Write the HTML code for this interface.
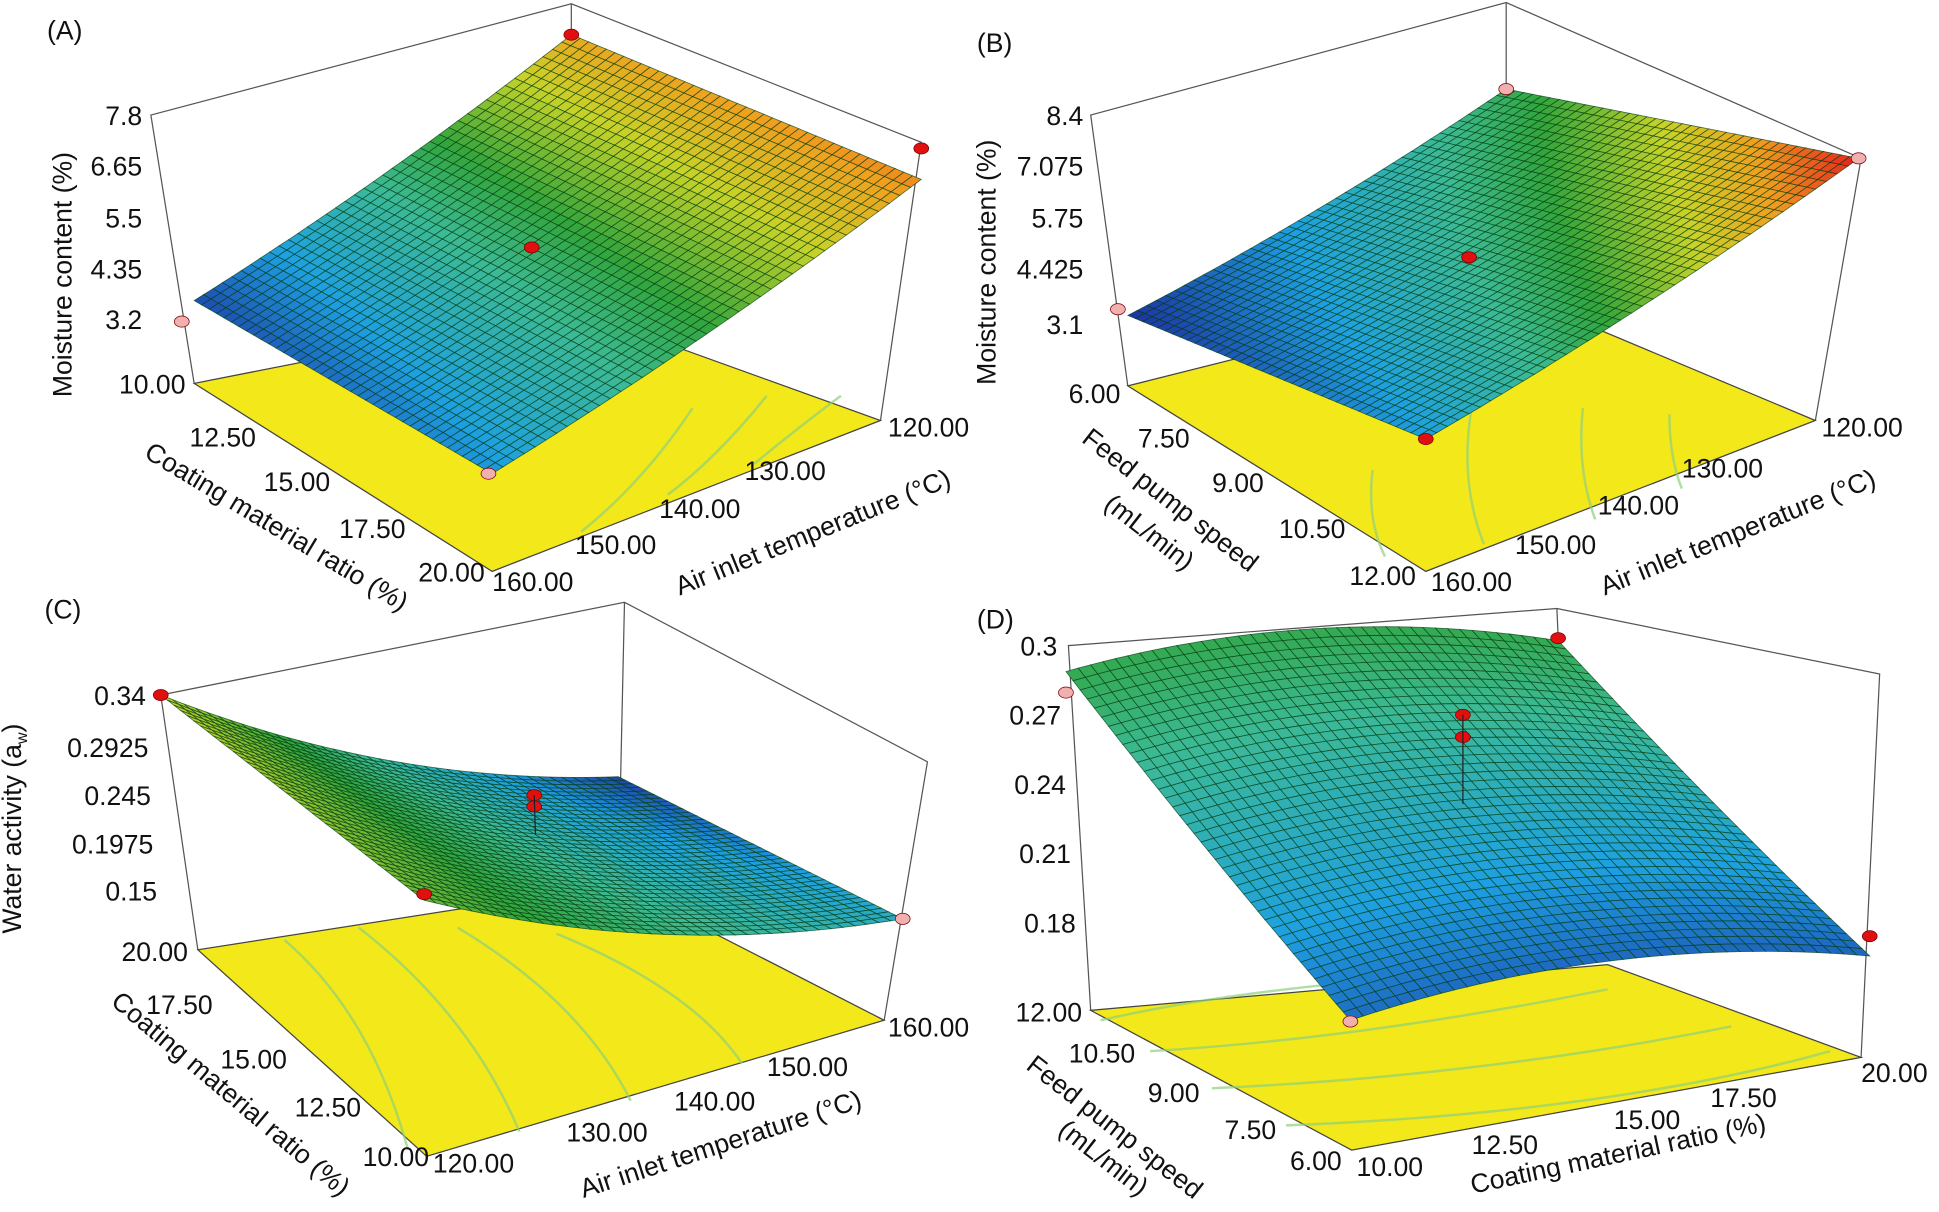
<!DOCTYPE html>
<html><head><meta charset="utf-8"><style>
html,body{margin:0;padding:0;background:#fff;}
svg{display:block;}
text{font-family:"Liberation Sans",sans-serif;font-size:21.5px;fill:#111;}
</style></head><body>
<svg id="s" width="1939" height="1212" viewBox="0 0 1568 980" xmlns="http://www.w3.org/2000/svg">
<rect width="1568" height="980" fill="#fff"/>
<g stroke="#555" stroke-width="1" fill="none">
<polyline points="157,310 122,93 462,3 745,115 712,340"/><line x1="462" y1="3" x2="462" y2="250"/>
<polyline points="912,312 882,93 1218,2 1505,128 1468,340"/><line x1="1218" y1="2" x2="1218" y2="235"/>
<polyline points="160,768 130,562 505,487 750,616 715,825"/><line x1="505" y1="487" x2="500" y2="715"/>
<polyline points="882,817 864,522 1259,492 1520,545 1505,855"/><line x1="1259" y1="492" x2="1262" y2="560"/>
</g>
<g stroke="#444" stroke-width="1">
<polygon points="157,310 398,462 712,340 462,250" fill="#f3e81a"/>
<polygon points="912,312 1153,462 1468,340 1218,235" fill="#f3e81a"/>
<polygon points="160,768 345,935 715,825 500,715" fill="#f3e81a"/>
<polygon points="882,817 1093,930 1505,855 1300,780" fill="#f3e81a"/>
</g>
<g stroke="#8fd07a" stroke-width="2" fill="none" opacity="0.7">
<path d="M470,430 Q520,390 560,330"/><path d="M540,400 Q580,370 620,320"/><path d="M610,375 Q640,350 680,320"/>
<path d="M1110,380 Q1105,420 1120,450"/><path d="M1190,330 Q1180,390 1200,440"/><path d="M1280,330 Q1275,380 1290,420"/><path d="M1350,335 Q1350,370 1360,395"/>
<path d="M230,760 Q300,820 330,930"/><path d="M290,750 Q380,820 420,915"/><path d="M370,750 Q470,810 510,890"/><path d="M450,755 Q560,800 600,860"/>
<path d="M890,825 Q1000,800 1150,790"/><path d="M930,850 Q1100,840 1300,800"/><path d="M980,880 Q1200,870 1400,830"/><path d="M1040,910 Q1300,900 1480,850"/>
</g>
<g id="surf"></g>
<g id="pts"></g>
<g id="tx">
<text x="38" y="32">(A)</text><text x="790" y="42">(B)</text><text x="36" y="500">(C)</text><text x="790" y="508">(D)</text>
<g text-anchor="end"><text x="115" y="101">7.8</text><text x="115" y="142">6.65</text><text x="115" y="184">5.5</text><text x="115" y="225">4.35</text><text x="115" y="266">3.2</text><text x="150" y="318">10.00</text>
<text x="207" y="361">12.50</text><text x="267" y="397">15.00</text><text x="328" y="435">17.50</text><text x="392" y="470">20.00</text></g>
<text x="398" y="478">160.00</text><text x="465" y="448">150.00</text><text x="533" y="419">140.00</text><text x="602" y="388">130.00</text><text x="718" y="353">120.00</text>
<text transform="translate(58,222) rotate(-90)" text-anchor="middle">Moisture content (%)</text>
<text transform="translate(220,432) rotate(31)" text-anchor="middle">Coating material ratio (%)</text>
<text transform="translate(660,437) rotate(-22)" text-anchor="middle">Air inlet temperature (°C)</text>
<g text-anchor="end"><text x="876" y="101">8.4</text><text x="876" y="142">7.075</text><text x="876" y="184">5.75</text><text x="876" y="225">4.425</text><text x="876" y="270">3.1</text><text x="906" y="326">6.00</text>
<text x="962" y="362">7.50</text><text x="1022" y="398">9.00</text><text x="1088" y="435">10.50</text><text x="1145" y="473">12.00</text></g>
<text x="1157" y="478">160.00</text><text x="1225" y="448">150.00</text><text x="1292" y="416">140.00</text><text x="1360" y="386">130.00</text><text x="1473" y="353">120.00</text>
<text transform="translate(805,212) rotate(-90)" text-anchor="middle">Moisture content (%)</text>
<text transform="translate(942,410) rotate(38)" text-anchor="middle">Feed pump speed</text>
<text transform="translate(925,436) rotate(38)" text-anchor="middle">(mL/min)</text>
<text transform="translate(1408,437) rotate(-22)" text-anchor="middle">Air inlet temperature (°C)</text>
<g text-anchor="end"><text x="118" y="570">0.34</text><text x="120" y="612">0.2925</text><text x="122" y="651">0.245</text><text x="124" y="690">0.1975</text><text x="127" y="728">0.15</text><text x="152" y="777">20.00</text>
<text x="172" y="820">17.50</text><text x="232" y="864">15.00</text><text x="292" y="903">12.50</text><text x="347" y="943">10.00</text></g>
<text x="350" y="948">120.00</text><text x="458" y="923">130.00</text><text x="545" y="898">140.00</text><text x="620" y="870">150.00</text><text x="718" y="838">160.00</text>
<text transform="translate(17,670) rotate(-90)" text-anchor="middle">Water activity (a<tspan font-size="13" dy="5">w</tspan><tspan dy="-5">)</tspan></text>
<text transform="translate(182,890) rotate(40)" text-anchor="middle">Coating material ratio (%)</text>
<text transform="translate(585,932) rotate(-18)" text-anchor="middle">Air inlet temperature (°C)</text>
<g text-anchor="end"><text x="855" y="530">0.3</text><text x="858" y="586">0.27</text><text x="862" y="642">0.24</text><text x="866" y="698">0.21</text><text x="870" y="754">0.18</text><text x="875" y="826">12.00</text>
<text x="918" y="859">10.50</text><text x="970" y="891">9.00</text><text x="1032" y="921">7.50</text><text x="1085" y="946">6.00</text></g>
<text x="1097" y="951">10.00</text><text x="1190" y="933">12.50</text><text x="1305" y="913">15.00</text><text x="1383" y="895">17.50</text><text x="1505" y="875">20.00</text>
<text transform="translate(897,917) rotate(38)" text-anchor="middle">Feed pump speed</text>
<text transform="translate(888,942) rotate(38)" text-anchor="middle">(mL/min)</text>
<text transform="translate(1310,940) rotate(-12)" text-anchor="middle">Coating material ratio (%)</text>
</g>
</svg>
<script>
function cmap(t){var st=[[0,[30,50,160]],[0.22,[30,160,225]],[0.42,[60,185,150]],[0.55,[50,165,60]],[0.72,[200,210,40]],[0.85,[240,160,30]],[1,[230,30,30]]];
for(var i=1;i<st.length;i++){if(t<=st[i][0]){var a=st[i-1],b=st[i],f=(t-a[0])/(b[0]-a[0]);return 'rgb('+[0,1,2].map(function(k){return Math.round(a[1][k]+(b[1][k]-a[1][k])*f)}).join(',')+')';}}return 'rgb(230,30,30)';}
var panels=[
 {p00:[157,243],p10:[398,383],p01:[462,28],p11:[745,145],c:[.05,.2,.83,.88],bu:0,bv:6},
 {p00:[912,255],p10:[1153,355],p01:[1218,72],p11:[1503,128],c:[0,.22,.5,1.0],bu:0,bv:6},
 {p00:[130,562],p10:[343,728],p01:[500,628],p11:[730,743],c:[.72,.62,.03,.3],bu:0,bv:20},
 {p00:[862,543],p10:[1092,825],p01:[1260,518],p11:[1512,773],c:[.52,.12,.52,.1],bu:4,bv:-22}
];
var g=document.getElementById('surf'),h='';
panels.forEach(function(P){var N=40;
 function pt(u,v){var x=(1-u)*(1-v)*P.p00[0]+u*(1-v)*P.p10[0]+(1-u)*v*P.p01[0]+u*v*P.p11[0];
  var y=(1-u)*(1-v)*P.p00[1]+u*(1-v)*P.p10[1]+(1-u)*v*P.p01[1]+u*v*P.p11[1];
  y+=P.bv*4*v*(1-v)+P.bu*4*u*(1-u);return [x,y];}
 function col(u,v){return (1-u)*(1-v)*P.c[0]+u*(1-v)*P.c[1]+(1-u)*v*P.c[2]+u*v*P.c[3];}
 for(var i=0;i<N;i++)for(var j=N-1;j>=0;j--){var u=i/N,v=j/N,d=1/N;
  var a=pt(u,v),b=pt(u+d,v),c=pt(u+d,v+d),e=pt(u,v+d);
  h+='<polygon points="'+[a,b,c,e].map(function(q){return q[0].toFixed(1)+','+q[1].toFixed(1)}).join(' ')+'" fill="'+cmap(Math.max(0,Math.min(1,col(u+d/2,v+d/2))))+'" stroke="rgba(0,60,15,0.7)" stroke-width="0.65"/>';}
});
g.innerHTML=h;
var pts=[[462,28,1],[745,120,1],[430,200,1],[147,260,0],[395,383,0],
[1218,72,0],[1503,128,0],[904,250,0],[1188,208,1],[1153,355,1],
[130,562,1],[432,643,1],[432,652,1],[343,723,1],[730,743,0],
[1260,516,1],[862,560,0],[1183,578,1],[1183,596,1],[1512,757,1],[1092,826,0]];
var s='';pts.forEach(function(p){s+='<ellipse cx="'+p[0]+'" cy="'+p[1]+'" rx="6" ry="4.5" fill="'+(p[2]?'#e01010':'#f0b0b0')+'" stroke="#700" stroke-width="0.6"/>';});
s+='<line x1="1183" y1="578" x2="1183" y2="650" stroke="#222"/><line x1="432" y1="643" x2="433" y2="675" stroke="#222"/>';
document.getElementById('pts').innerHTML=s;
</script>
</body></html>
